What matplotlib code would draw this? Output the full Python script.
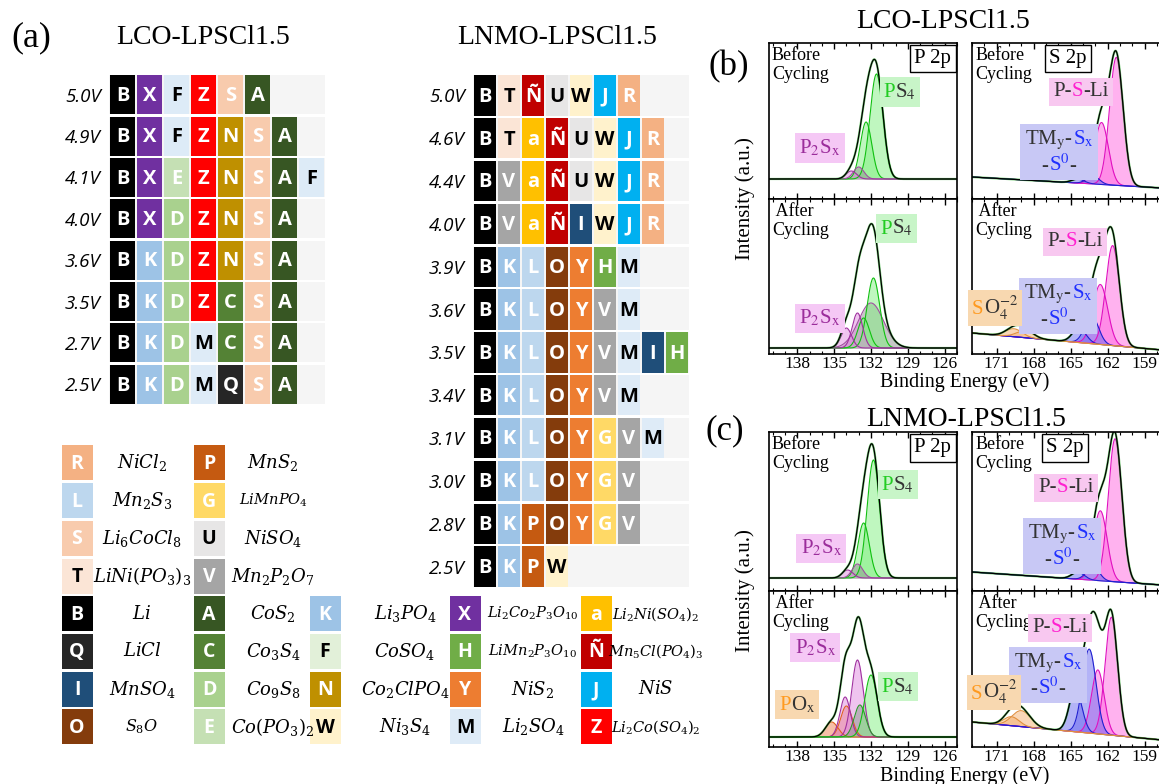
import matplotlib
matplotlib.use("Agg")
import matplotlib.pyplot as plt
import numpy as np
from matplotlib.patches import Rectangle
from matplotlib.offsetbox import TextArea, HPacker, VPacker, AnnotationBbox
from matplotlib.ticker import MultipleLocator

plt.rcParams['mathtext.fontset'] = 'stix'

# ---------------- data: phase maps (a) ----------------
lco_volts = ['5.0V', '4.9V', '4.1V', '4.0V', '3.6V', '3.5V', '2.7V', '2.5V']
lco_rows = [list('BXFZSA'), list('BXFZNSA'), list('BXEZNSAF'), list('BXDZNSA'),
            list('BKDZNSA'), list('BKDZCSA'), list('BKDMCSA'), list('BKDMQSA')]

lnmo_volts = ['5.0V', '4.6V', '4.4V', '4.0V', '3.9V', '3.6V', '3.5V', '3.4V',
              '3.1V', '3.0V', '2.8V', '2.5V']
lnmo_rows = [list('BTÑUWJR'), list('BTaÑUWJR'), list('BVaÑUWJR'), list('BVaÑIWJR'),
             list('BKLOYHM'), list('BKLOYVM'), list('BKLOYVMIH'), list('BKLOYVM'),
             list('BKLOYGVM'), list('BKLOYGV'), list('BKPOYGV'), list('BKPW')]

# legend: one list per column (letter, compound)
legend_col1 = [('R', r'$NiCl_2$'), ('L', r'$Mn_2S_3$'), ('S', r'$Li_6CoCl_8$'),
               ('T', r'$LiNi(PO_3)_3$'), ('B', r'$Li$'), ('Q', r'$LiCl$'),
               ('I', r'$MnSO_4$'), ('O', r'$S_8O$')]
legend_col2 = [('P', r'$MnS_2$'), ('G', r'$LiMnPO_4$'), ('U', r'$NiSO_4$'),
               ('V', r'$Mn_2P_2O_7$'), ('A', r'$CoS_2$'), ('C', r'$Co_3S_4$'),
               ('D', r'$Co_9S_8$'), ('E', r'$Co(PO_3)_2$')]
legend_col3 = [('K', r'$Li_3PO_4$'), ('F', r'$CoSO_4$'), ('N', r'$Co_2ClPO_4$'),
               ('W', r'$Ni_3S_4$')]
legend_col4 = [('X', r'$Li_2Co_2P_3O_{10}$'), ('H', r'$LiMn_2P_3O_{10}$'),
               ('Y', r'$NiS_2$'), ('M', r'$Li_2SO_4$')]
legend_col5 = [('a', r'$Li_2Ni(SO_4)_2$'), ('Ñ', r'$Mn_5Cl(PO_4)_3$'),
               ('J', r'$NiS$'), ('Z', r'$Li_2Co(SO_4)_2$')]

# ---------------- data: XPS fits (b), (c) ----------------
# peaks: (centre eV, height a.u., fwhm eV, component)
# bg: background level at (high BE end, low BE end)
lco_p_before = [(131.55, 105, 1.25, 'ps4'), (132.4, 57, 1.1, 'ps4'),
                (133.0, 12, 1.0, 'grey'), (133.6, 8, 1.0, 'p2sx')]
lco_p_before_bg = (20, 20)
lco_s_before = [(161.3, 128, 1.3, 'psli'), (162.5, 62, 1.3, 'psli'),
                (163.2, 8, 1.2, 'tm'), (164.4, 4, 1.2, 'tm')]
lco_s_before_bg = (22, 11)
lco_p_after = [(132.0, 45, 2.4, 'grey'), (131.8, 70, 1.2, 'ps4'), (132.6, 30, 1.1, 'ps4'),
               (133.1, 35, 1.0, 'p2sx'), (134.0, 20, 1.0, 'p2sx')]
lco_p_after_bg = (6, 6)
lco_s_after = [(161.6, 100, 1.3, 'psli'), (162.6, 60, 1.4, 'psli'),
               (163.3, 28, 1.3, 'tm'), (164.3, 14, 1.3, 'tm'),
               (169.6, 8, 1.6, 'so4'), (168.7, 7, 1.6, 'so4')]
lco_s_after_bg = (21, 4)

lnmo_p_before = [(131.8, 118, 1.2, 'ps4'), (132.6, 55, 1.1, 'ps4'),
                 (133.1, 14, 1.0, 'grey'), (133.9, 8, 1.0, 'p2sx')]
lnmo_p_before_bg = (13, 13)
lnmo_s_before = [(161.4, 143, 1.3, 'psli'), (162.6, 70, 1.3, 'psli'),
                 (163.2, 14, 1.2, 'tm'), (164.4, 7, 1.2, 'tm')]
lnmo_s_before_bg = (19, 6)
lnmo_p_after = [(135.2, 15, 1.2, 'pox'), (134.0, 31, 1.1, 'pox'),
                (134.1, 40, 1.0, 'p2sx'), (133.1, 77, 1.1, 'p2sx'),
                (132.9, 32, 1.1, 'ps4b'), (132.0, 62, 1.2, 'ps4')]
lnmo_p_after_bg = (10, 10)
lnmo_s_after = [(161.7, 118, 1.2, 'psli'), (162.8, 64, 1.2, 'psli'),
                (163.5, 84, 1.3, 'tm'), (164.6, 42, 1.2, 'tm'),
                (169.0, 16, 1.8, 'so4'), (169.8, 9, 1.5, 'so4')]
lnmo_s_after_bg = (25, 7)

p_range = (140.3, 125.0)
s_range = (173.0, 157.6)

# ---------------- styles ----------------
cell_colors = {'B': '#000000', 'X': '#7030A0', 'F': '#DDEBF7', 'Z': '#FF0000',
               'S': '#F8CBAD', 'A': '#375623', 'N': '#BF9000', 'E': '#C5E0B4',
               'D': '#A9D18E', 'K': '#9DC3E6', 'C': '#548235', 'M': '#DEEBF7',
               'Q': '#262626', 'T': '#FBE5D6', 'Ñ': '#C00000', 'U': '#E7E6E6',
               'W': '#FFF2CC', 'J': '#00B0F0', 'R': '#F4B183', 'a': '#FFC000',
               'V': '#A5A5A5', 'I': '#1F4E79', 'L': '#BDD7EE', 'O': '#843C0C',
               'Y': '#ED7D31', 'H': '#70AD47', 'G': '#FFD966', 'P': '#C55A11'}
legend_override = {'F': '#E2F0D9'}
dark_text = set('TUWMF')

comp_style = {'ps4': ('#80F080', '#10C010'), 'ps4b': ('#8A9A8A', '#2A9A2A'),
              'grey': ('#909090', '#A050A0'), 'p2sx': ('#E08AE0', '#A030A0'),
              'psli': ('#FF66E0', '#E010C0'), 'tm': ('#6868F0', '#2020D0'),
              'so4': ('#F5B070', '#E09040'), 'pox': ('#F08050', '#E06020')}

SERIF = 'Liberation Serif'
W, H = 1159, 784
fig = plt.figure(figsize=(W / 100, H / 100), dpi=100)


def px_axes(x0, y0, x1, y1):
    return fig.add_axes([x0 / W, 1 - y1 / H, (x1 - x0) / W, (y1 - y0) / H])


def draw_grid(ax, rows, volts, ncols):
    n = len(rows)
    ax.set_xlim(0, ncols)
    ax.set_ylim(n, 0)
    for r, row in enumerate(rows):
        ax.add_patch(Rectangle((0, r + 0.03), ncols, 0.94, fc='#F5F5F5', ec='none'))
        for c, ch in enumerate(row):
            ax.add_patch(Rectangle((c + 0.04, r + 0.03), 0.92, 0.94,
                                   fc=cell_colors[ch], ec='none'))
            ax.text(c + 0.5, r + 0.53, ch, ha='center', va='center', fontsize=14.5,
                    fontweight='bold', family='Open Sans',
                    color='black' if ch in dark_text else 'white')
    ax.set_yticks(np.arange(n) + 0.5)
    ax.set_yticklabels(volts, fontstyle='italic', fontsize=13.5, family='Open Sans')
    ax.set_xticks([])
    ax.tick_params(length=0, pad=6)
    for s in ax.spines.values():
        s.set_visible(False)


ax_lco = px_axes(109, 74, 325, 405)
draw_grid(ax_lco, lco_rows, lco_volts, 8)
ax_lnmo = px_axes(473, 74, 689, 588)
draw_grid(ax_lnmo, lnmo_rows, lnmo_volts, 9)

# legend
ax_leg = px_axes(0, 430, 720, 760)
ax_leg.set_xlim(0, 720)
ax_leg.set_ylim(760, 430)
ax_leg.axis('off')
sq_x = [77, 209, 325, 465, 596]
lab_x = [142, 273, 405, 533, 656]
start_row = [0, 0, 4, 4, 4]
small = {r'$LiMnPO_4$', r'$Li_2Co_2P_3O_{10}$', r'$LiMn_2P_3O_{10}$',
         r'$Mn_5Cl(PO_4)_3$', r'$Li_2Co(SO_4)_2$', r'$Li_2Ni(SO_4)_2$'}
for ci, col in enumerate([legend_col1, legend_col2, legend_col3, legend_col4, legend_col5]):
    for k, (ch, name) in enumerate(col):
        cy = 463 + 37.7 * (start_row[ci] + k)
        fc = legend_override.get(ch, cell_colors[ch])
        ax_leg.add_patch(Rectangle((sq_x[ci] - 15.5, cy - 17.5), 31, 35, fc=fc, ec='none'))
        ax_leg.text(sq_x[ci], cy + 1, ch, ha='center', va='center', fontsize=14,
                    fontweight='bold', family='Open Sans',
                    color='black' if ch in dark_text else 'white')
        size = 10.5 if name in small else (11.5 if name == r'$S_8O$' else 13)
        ax_leg.text(lab_x[ci], cy, name, ha='center', va='center',
                    math_fontfamily='dejavuserif', fontsize=size)

fig.text(31 / W, 1 - 38 / H, '(a)', fontsize=26, family=SERIF, ha='center', va='center')
fig.text(203 / W, 1 - 38 / H, 'LCO-LPSCl1.5', fontsize=20, family=SERIF, ha='center', va='center')
fig.text(557 / W, 1 - 38 / H, 'LNMO-LPSCl1.5', fontsize=20, family=SERIF, ha='center', va='center')


# ---------------- XPS panels ----------------
def gauss(x, c, h, w):
    return h * np.exp(-4 * np.log(2) * ((x - c) / w) ** 2)


def draw_xps(ax, peaks, bg, xr, height, labels):
    x = np.linspace(xr[0], xr[1], 700)
    base = bg[0] + (bg[1] - bg[0]) * (xr[0] - x) / (xr[0] - xr[1])
    total = base.copy()
    for c, h, w, kind in peaks:
        y = gauss(x, c, h, w)
        fc, ec = comp_style[kind]
        ax.fill_between(x, base, base + y, color=fc, alpha=0.5, lw=0)
        ax.plot(x, base + y, color=ec, lw=0.8)
        total += y
    ax.plot(x, total, color='#20B020', lw=1.6, alpha=0.6)
    ax.plot(x, total, color='black', lw=0.9)
    ax.set_xlim(xr)
    ax.set_ylim(0, height)
    ax.xaxis.set_major_locator(MultipleLocator(3))
    ax.xaxis.set_minor_locator(MultipleLocator(1))
    ax.set_yticks([])
    ax.tick_params(which='both', direction='in', top=True, bottom=True,
                   labelsize=12.5, pad=1.5)
    ax.tick_params(which='major', length=4, width=1)
    ax.tick_params(which='minor', length=2.5, width=0.8)
    for t in ax.get_xticklabels():
        t.set_family(SERIF)
    for s in ax.spines.values():
        s.set_linewidth(1.2)
    if not labels:
        ax.tick_params(labelbottom=False)


def tag(ax, x, y, lines, fc, size=15):
    rows = []
    for line in lines:
        areas = [TextArea(s, textprops=dict(color=c, fontsize=size, family=SERIF))
                 for s, c in line]
        rows.append(HPacker(children=areas, align='baseline', pad=0, sep=0))
    box = rows[0] if len(rows) == 1 else VPacker(children=rows, align='center', pad=0, sep=2)
    ab = AnnotationBbox(box, (x, y), xycoords='axes fraction', frameon=True, pad=0.3,
                        bboxprops=dict(fc=fc, ec='none'), box_alignment=(0.5, 0.5))
    ax.add_artist(ab)


def state(ax, txt):
    ax.text(0.016, 0.975, txt, transform=ax.transAxes, va='top', ha='left',
            fontsize=13, family=SERIF, linespacing=1.15)


def core(ax, x, txt):
    ax.text(x, 0.9, txt, transform=ax.transAxes, ha='center', va='center',
            fontsize=15, family=SERIF,
            bbox=dict(fc='white', ec='black', lw=1, boxstyle='square,pad=0.2'))


K = '#333333'
GREEN, PURPLE, MAG, BLUE, ORANGE = '#22CC22', '#9B2D9B', '#FF20D0', '#2030FF', '#FF9A20'
PS4 = [[('P', GREEN), (r'S$_4$', K)]]
P2SX = [[(r'P$_2$S$_\mathrm{x}$', PURPLE)]]
PSLI = [[('P-', K), ('S', MAG), ('-Li', K)]]
TMS = [[(r'TM$_\mathrm{y}$-', K), (r'S$_\mathrm{x}$', BLUE)],
       [('-', K), (r'S$^0$', BLUE), ('-', K)]]
SO4 = [[('S', ORANGE), (r'O$_4^{-2}$', K)]]
POX = [[('P', ORANGE), (r'O$_\mathrm{x}$', K)]]
C_PS4, C_P2SX, C_PSLI, C_TM, C_SO4 = '#C8F5C8', '#F5C8F5', '#F8C8F0', '#C8C8F5', '#F8D8B0'

# (b) LCO
ax = px_axes(769, 43, 957, 199)
draw_xps(ax, lco_p_before, lco_p_before_bg, p_range, 156, False)
state(ax, 'Before\nCycling'); core(ax, 0.872, 'P 2p')
tag(ax, 0.697, 0.686, PS4, C_PS4); tag(ax, 0.271, 0.327, P2SX, C_P2SX)

ax = px_axes(972, 43, 1162, 199)
draw_xps(ax, lco_s_before, lco_s_before_bg, s_range, 156, False)
state(ax, 'Before\nCycling'); core(ax, 0.505, 'S 2p')
tag(ax, 0.574, 0.686, PSLI, C_PSLI); tag(ax, 0.458, 0.30, TMS, C_TM)

ax = px_axes(769, 199, 957, 354)
draw_xps(ax, lco_p_after, lco_p_after_bg, p_range, 155, True)
state(ax, ' After\nCycling')
tag(ax, 0.68, 0.81, PS4, C_PS4); tag(ax, 0.271, 0.232, P2SX, C_P2SX)

ax = px_axes(972, 199, 1162, 354)
draw_xps(ax, lco_s_after, lco_s_after_bg, s_range, 155, True)
state(ax, ' After\nCycling')
tag(ax, 0.542, 0.723, PSLI, C_PSLI); tag(ax, 0.453, 0.31, TMS, C_TM)
tag(ax, 0.121, 0.297, SO4, C_SO4)

# (c) LNMO
ax = px_axes(769, 432, 957, 591)
draw_xps(ax, lnmo_p_before, lnmo_p_before_bg, p_range, 159, False)
state(ax, 'Before\nCycling'); core(ax, 0.872, 'P 2p')
tag(ax, 0.686, 0.667, PS4, C_PS4); tag(ax, 0.277, 0.27, P2SX, C_P2SX)

ax = px_axes(972, 432, 1162, 591)
draw_xps(ax, lnmo_s_before, lnmo_s_before_bg, s_range, 159, False)
state(ax, 'Before\nCycling'); core(ax, 0.49, 'S 2p')
tag(ax, 0.495, 0.648, PSLI, C_PSLI); tag(ax, 0.474, 0.283, TMS, C_TM)

ax = px_axes(769, 591, 957, 747)
draw_xps(ax, lnmo_p_after, lnmo_p_after_bg, p_range, 156, True)
state(ax, ' After\nCycling')
tag(ax, 0.245, 0.635, P2SX, C_P2SX); tag(ax, 0.149, 0.27, POX, C_SO4)
tag(ax, 0.686, 0.385, PS4, C_PS4)

ax = px_axes(972, 591, 1162, 747)
draw_xps(ax, lnmo_s_after, lnmo_s_after_bg, s_range, 156, True)
state(ax, ' After\nCycling')
tag(ax, 0.463, 0.763, PSLI, C_PSLI); tag(ax, 0.40, 0.462, TMS, C_TM)
tag(ax, 0.116, 0.349, SO4, C_SO4)

for yc in (199, 591):
    fig.text(745 / W, 1 - yc / H, 'Intensity (a.u.)', rotation=90, ha='center',
             va='center', fontsize=15, family=SERIF)
for yc in (382, 776):
    fig.text(965 / W, 1 - yc / H, 'Binding Energy (eV)', ha='center', va='center',
             fontsize=14.5, family=SERIF)

fig.text(729 / W, 1 - 67 / H, '(b)', fontsize=25, family=SERIF, ha='center', va='center')
fig.text(943 / W, 1 - 22 / H, 'LCO-LPSCl1.5', fontsize=20, family=SERIF, ha='center', va='center')
fig.text(725 / W, 1 - 431 / H, '(c)', fontsize=25, family=SERIF, ha='center', va='center')
fig.text(966 / W, 1 - 419 / H, 'LNMO-LPSCl1.5', fontsize=20, family=SERIF, ha='center', va='center')

fig.savefig('out.png', dpi=100)
